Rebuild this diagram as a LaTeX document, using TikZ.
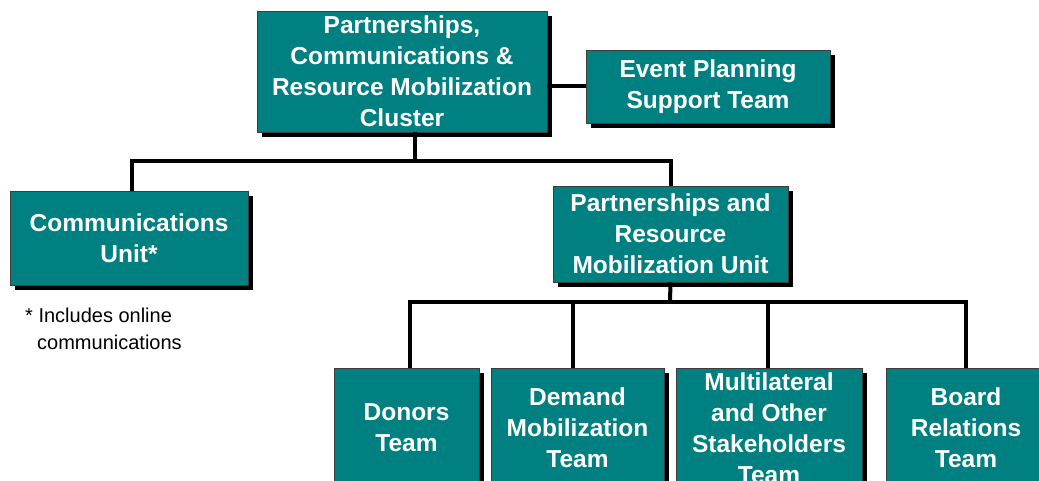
\documentclass[tikz,border=0pt]{standalone}
\usepackage{fontspec}
\setmainfont{Liberation Sans}
\usetikzlibrary{shadows}
\definecolor{tealbox}{RGB}{0,128,128}
\definecolor{boxedge}{RGB}{60,60,60}
\tikzset{
  orgbox/.style={draw=boxedge, line width=0.9pt, fill=tealbox, text=white,
    font=\fontsize{24.5}{31}\selectfont\bfseries, align=center, inner sep=0pt,
    drop shadow={shadow xshift=5pt, shadow yshift=-5pt, opacity=1, fill=black}},
  link/.style={draw=black, line width=4pt, line join=miter},
  note/.style={font=\fontsize{20}{27}\selectfont, inner sep=0pt, anchor=base west}
}
\begin{document}
\begin{tikzpicture}[x=1pt,y=-1pt]
\useasboundingbox (0,0) rectangle (1039,481);
% connectors first (under the boxes)
\coordinate (bus1) at (415,161);
\coordinate (bus2) at (670,302);

\node[orgbox, minimum width=290pt, minimum height=121pt] (top) at (402,71.5)
  {Partnerships,\\Communications \&\\Resource Mobilization\\Cluster};
\node[orgbox, minimum width=244pt, minimum height=73pt] (event) at (708,86.5)
  {Event Planning\\Support Team};
\node[orgbox, minimum width=238pt, minimum height=94pt] (comm) at (129,238)
  {Communications\\Unit*};
\node[orgbox, minimum width=235pt, minimum height=96pt] (prm) at (670.5,234)
  {Partnerships and\\Resource\\Mobilization Unit};
\node[orgbox, minimum width=145pt, minimum height=120pt] (donors) at (406.5,428)
  {Donors\\Team};
\node[orgbox, minimum width=173pt, minimum height=120pt] (demand) at (577.5,428)
  {Demand\\Mobilization\\Team};
\node[orgbox, minimum width=186pt, minimum height=120pt] (multi) at (769,428)
  {Multilateral\\and Other\\Stakeholders\\Team};
\node[orgbox, minimum width=160pt, minimum height=120pt] (board) at (966,428)
  {Board\\Relations\\Team};

\node[note] (star) at (25,322) {* Includes online};
\node[note] (star2) at (37,349) {communications};

\begin{scope}[on background layer/.try]
\end{scope}
% links
\draw[link] (event.west) -- (event.west -| top.east);
\draw[link] (top.south -| bus1) -- (bus1);
\draw[link] ([xshift=3pt]comm.north) -- ([xshift=3pt]comm.north |- bus1) -- (prm.north |- bus1) -- (prm.north);
\draw[link] (prm.south) -- (bus2);
\draw[link] ([xshift=3.5pt]donors.north) -- ([xshift=3.5pt]donors.north |- bus2) -- (board.north |- bus2) -- (board.north);
\draw[link] ([xshift=-4.5pt]demand.north) -- ([xshift=-4.5pt]demand.north |- bus2);
\draw[link] ([xshift=-1pt]multi.north) -- ([xshift=-1pt]multi.north |- bus2);
\end{tikzpicture}
\end{document}
